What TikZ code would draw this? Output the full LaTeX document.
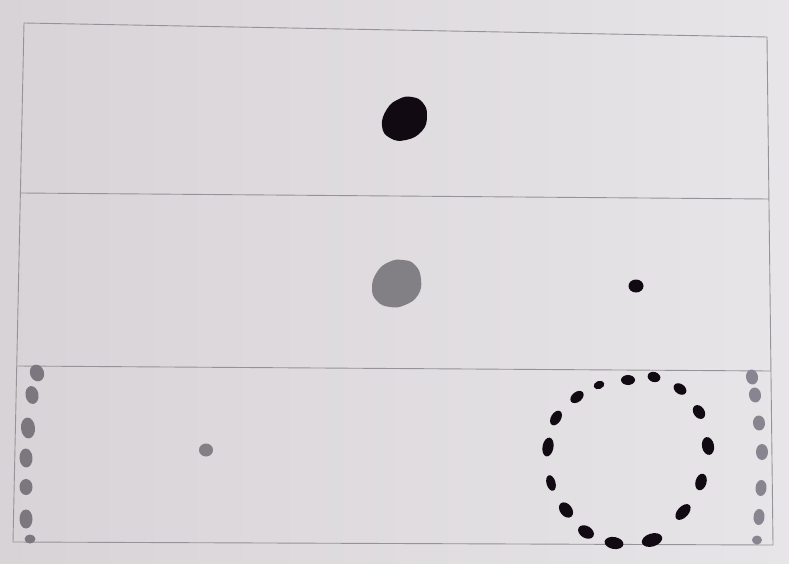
\documentclass[tikz,border=0pt]{standalone}
\begin{document}
\begin{tikzpicture}[x=1pt,y=1pt]
\definecolor{paperL}{RGB}{216,211,214}
\definecolor{paperR}{RGB}{231,229,232}
\definecolor{frameC}{RGB}{150,147,152}
\definecolor{ink}{RGB}{18,10,18}
\definecolor{grayInk}{RGB}{130,127,133}
\definecolor{grayDotL}{RGB}{122,119,126}
\definecolor{grayDotR}{RGB}{136,133,145}
\tikzset{frameline/.style={draw=frameC,line width=0.9pt}}
\useasboundingbox (0,0) rectangle (789,-564);
\shade[left color=paperL,right color=paperR] (0,0) rectangle (789,-564);
% frame
\draw[frameline] (24,-23) -- (767,-37) -- (773,-545) -- (13,-542) -- cycle;
\draw[frameline] (20.4,-193) -- (768.9,-199);
\draw[frameline] (16.7,-366) -- (770.9,-371);
% top black blob
\fill[ink] plot[smooth cycle,tension=0.8] coordinates {(412,-97) (423,-103) (427,-116) (422,-131) (406,-140) (390,-138) (382,-126) (387,-109) (399,-99)};
% middle gray blob
\fill[grayInk] plot[smooth cycle,tension=0.8] coordinates {(403,-260) (415,-265) (421,-279) (418,-295) (405,-305) (390,-307) (377,-301) (372,-288) (377,-272) (389,-262)};
% small black dot
\fill[ink] (636,-286) ellipse [x radius=7.5, y radius=6.5];
% small gray dot
\fill[grayInk] (206,-450) ellipse [x radius=7, y radius=6.5];
% dashed circle made of blobs
\foreach \px/\py/\ra/\rb in {599/385/5.5/4,628/380/7/5,654/377/6.5/5,680/389/7/5,
  699/412/7.5/5.5,708/446/9/6,701/482/8.5/5.5,683/512/9.5/5.5,652/540/10.5/6.5,614/543/9.5/6,
  586/532/8.5/6,566/510/8.5/6,551/483/8/4.5,548/447/9.5/5.5,556/418/8/5,577/397/7.5/5}{
  \pgfmathsetmacro\ang{atan2(461-\py,\px-628)+90}
  \fill[ink,rotate around={\ang:(\px,-\py)}] (\px,-\py) ellipse [x radius=\ra, y radius=\rb];
}
% left gray dots
\foreach \px/\py/\ra/\rb/\rr in {37/373/7/8.5/20,32/395/6.5/9/10,28/428/7/10.5/5,26/458/6.5/9.5/3,
  26/487/6.5/8/0,26/519/6.5/9.5/0,30/539/5.5/4.5/0}{
  \fill[grayDotL,rotate around={\rr:(\px,-\py)}] (\px,-\py) ellipse [x radius=\ra, y radius=\rb];
}
% right gray dots
\foreach \px/\py/\ra/\rb/\rr in {752/377/6/7.5/10,755/395/6/7.5/8,759/423/6/7.5/5,762/452/6/8/0,
  761/488/5.5/8/-5,759/517/5.5/8/-5,757/540/5/4.5/0}{
  \fill[grayDotR,rotate around={\rr:(\px,-\py)}] (\px,-\py) ellipse [x radius=\ra, y radius=\rb];
}
\end{tikzpicture}
\end{document}
